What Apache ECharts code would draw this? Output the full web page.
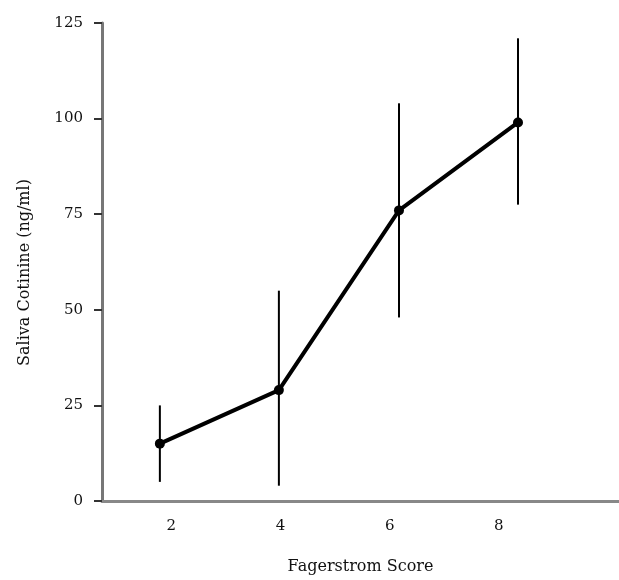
<!DOCTYPE html>
<html>
<head>
<meta charset="utf-8">
<script src="https://cdn.jsdelivr.net/npm/echarts@6/dist/echarts.min.js"></script>
<style>
  html, body { margin: 0; padding: 0; background: #fff; }
  #chart { width: 619px; height: 580px; }
</style>
</head>
<body>
<div id="chart"></div>
<script>
// values
var scoreTicks = [2, 4, 6, 8]
var scoreX = [1.79, 3.97, 6.17, 8.35]      // where the points actually sit
var cotinine = [15, 29, 76, 99]
var errLow = [5, 4, 48, 77.5]
var errHigh = [25, 55, 104, 121]
var yTicks = [0, 25, 50, 75, 100, 125]

var font = 'DejaVu Serif'
var chart = echarts.init(document.getElementById('chart'))

var lineData = []
var barData = []
for (var i = 0; i < scoreX.length; i++) {
  lineData.push([scoreX[i], cotinine[i]])
  barData.push([scoreX[i], errLow[i], errHigh[i]])
}

chart.setOption({
  backgroundColor: '#fff',
  animation: false,
  grid: { left: 102, right: 0, top: 23, bottom: 79 },
  xAxis: {
    type: 'value',
    min: 0.73,
    max: 10.2,
    name: 'Fagerstrom Score',
    nameLocation: 'middle',
    nameGap: 58,
    nameTextStyle: { fontFamily: font, fontSize: 16, color: '#111' },
    axisLine: { lineStyle: { color: '#888', width: 3 } },
    axisTick: { show: false },
    splitLine: { show: false },
    axisLabel: {
      customValues: scoreTicks,
      margin: 18,
      fontFamily: font,
      fontSize: 15,
      color: '#111'
    }
  },
  yAxis: {
    type: 'value',
    min: yTicks[0],
    max: yTicks[yTicks.length - 1],
    interval: 25,
    name: 'Saliva Cotinine (ng/ml)',
    nameLocation: 'middle',
    nameGap: 69,
    nameTextStyle: { fontFamily: font, fontSize: 16, color: '#111', padding: [0, 21, 0, 0] },
    axisLine: { show: true, lineStyle: { color: '#777', width: 3 } },
    axisTick: { show: true, length: 8, lineStyle: { color: '#333', width: 2 } },
    splitLine: { show: false },
    axisLabel: { margin: 19, fontFamily: font, fontSize: 15, color: '#111' }
  },
  series: [
    {
      name: 'error',
      type: 'custom',
      data: barData,
      encode: { x: 0, y: [1, 2] },
      renderItem: function(params, api) {
        var lo = api.coord([api.value(0), api.value(1)])
        var hi = api.coord([api.value(0), api.value(2)])
        return {
          type: 'line',
          shape: { x1: lo[0], y1: lo[1], x2: hi[0], y2: hi[1] },
          style: { stroke: '#000', lineWidth: 2 }
        }
      },
      z: 2
    },
    {
      name: 'cotinine',
      type: 'line',
      data: lineData,
      symbol: 'circle',
      symbolSize: 10,
      itemStyle: { color: '#000' },
      lineStyle: { color: '#000', width: 4 },
      z: 3
    }
  ]
})
</script>
</body>
</html>
